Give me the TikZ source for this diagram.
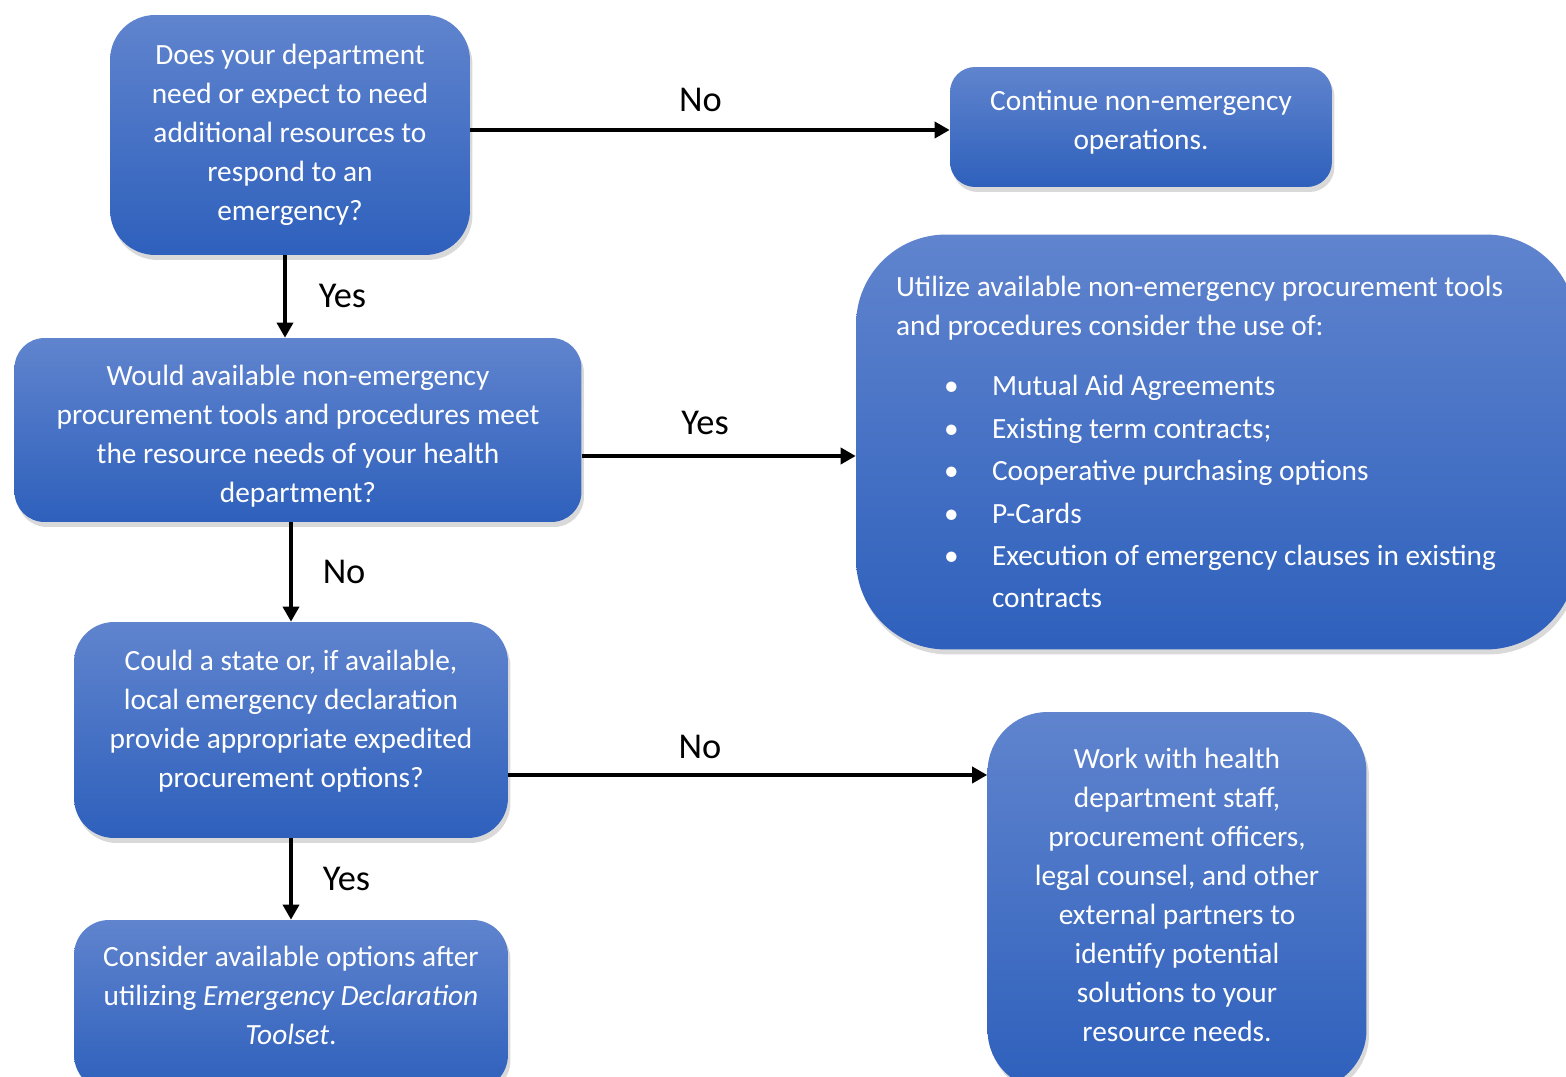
\documentclass[tikz,border=0pt]{standalone}
\usepackage{fontspec}
\setmainfont{Carlito}
\usetikzlibrary{arrows.meta,shadows}
\definecolor{boxtop}{RGB}{96,132,206}
\definecolor{boxbottom}{RGB}{46,96,188}
\newcommand{\toolitem}[1]{\hspace*{0.96cm}\makebox[0.96cm][l]{\textbullet}#1}
\newcommand{\padabove}[1]{\rule{0pt}{#1}}
\newcommand{\padbelow}[1]{\rule[-#1]{0pt}{0pt}}
\tikzset{
  flowbox/.style={rounded corners=#1, top color=boxtop, bottom color=boxbottom,
    text=white, align=center, inner sep=0pt, font={\fontsize{16.7}{22.2}\selectfont},
    drop shadow={opacity=0.3, shadow xshift=0.05cm, shadow yshift=-0.1cm}},
  flowbox/.default=0.7cm,
  flowarrow/.style={line width=2pt, -{Triangle[length=0.3cm,width=0.32cm]}},
  answer/.style={font={\fontsize{20.7}{24}\selectfont}, text height=1.5ex, text depth=0.25ex, inner sep=0pt}
}

\begin{document}
\begin{tikzpicture}[x=0.02cm, y=-0.02cm]
            \useasboundingbox (0,0) rectangle (1566,1077);
            \clip (0,0) rectangle (1566,1077);

            % Questions (left column)
            \node[flowbox=0.9cm, minimum width=7.2cm, minimum height=4.8cm] (needres) at (290,135)
                {Does your department\\need or expect to need\\additional resources to\\respond to an\\emergency?};
            \node[flowbox=0.6cm, minimum width=11.34cm, minimum height=3.68cm] (procq) at (298,430)
                {\padabove{0.66cm}Would available non-emergency\\procurement tools and procedures meet\\the resource needs of your health\\department?};
            \node[flowbox=0.8cm, minimum width=8.68cm, minimum height=4.32cm] (stateq) at (291,730)
                {Could a state or, if available,\\local emergency declaration\\provide appropriate expedited\\procurement options?\padbelow{0.44cm}};
            \node[flowbox=0.7cm, minimum width=8.68cm, minimum height=3.4cm] (consider) at (291,1005)
                {Consider available options after\\utilizing \textit{Emergency Declaration}\\\textit{Toolset}.\padbelow{0.4cm}};

            % Outcomes (right column)
            \node[flowbox=0.5cm, minimum width=7.64cm, minimum height=2.4cm] (contops) at (1141,127)
                {Continue non-emergency\\operations.\padbelow{0.28cm}};
            \node[flowbox=1.8cm, minimum width=14.4cm, minimum height=8.3cm, align=flush left, text width=12.8cm] (usetools) at (1216,442)
                {Utilize available non-emergency procurement tools\\
                 and procedures consider the use of:\\[12pt]
                 \toolitem{Mutual Aid Agreements}\\[2pt]
                 \toolitem{Existing term contracts;}\\[2pt]
                 \toolitem{Cooperative purchasing options}\\[2pt]
                 \toolitem{P-Cards}\\[2pt]
                 \toolitem{Execution of emergency clauses in existing}\\[1.4pt]
                 \hspace*{1.92cm}contracts};
            \node[flowbox=1.2cm, minimum width=7.58cm, minimum height=7.56cm] (workwith) at (1177,901)
                {Work with health\\department staff,\\procurement officers,\\legal counsel, and other\\external partners to\\identify potential\\solutions to your\\resource needs.\padbelow{0.24cm}};

            % Connectors
            \draw[flowarrow] ([yshift=0.1cm]needres.east) -- ([yshift=0.1cm]needres.east -| contops.west)
                node[answer, pos=0.48, yshift=0.48cm] (no1) {No};
            \draw[flowarrow] ([xshift=-0.1cm]needres.south) -- ([xshift=-0.1cm]needres.south |- procq.north)
                node[answer, midway, anchor=west, xshift=0.64cm, yshift=-0.12cm] (yes1) {Yes};
            \draw[flowarrow] ([yshift=-0.52cm]procq.east) -- ([yshift=-0.52cm]procq.east -| usetools.west)
                node[answer, pos=0.45, yshift=0.54cm] (yes2) {Yes};
            \draw[flowarrow] (stateq.north |- procq.south) -- (stateq.north)
                node[answer, midway, anchor=west, xshift=0.6cm, yshift=-0.12cm] (no2) {No};
            \draw[flowarrow] ([yshift=-0.9cm]stateq.east) -- ([yshift=-0.9cm]stateq.east -| workwith.west)
                node[answer, pos=0.4, yshift=0.44cm] (no3) {No};
            \draw[flowarrow] (stateq.south) -- (consider.north)
                node[answer, midway, anchor=west, xshift=0.6cm, yshift=-0.12cm] (yes3) {Yes};
        \end{tikzpicture}
\end{document}
